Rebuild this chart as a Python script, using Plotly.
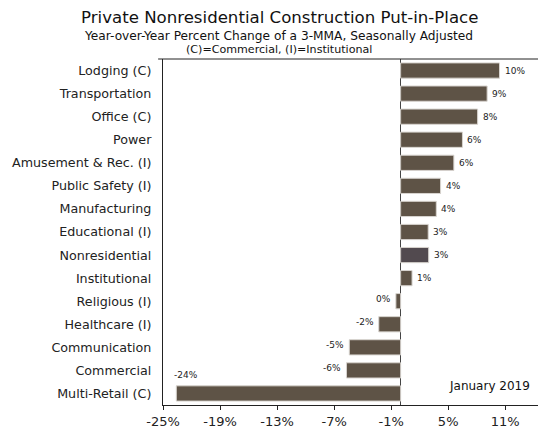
import plotly.graph_objects as go

categories = ["Lodging (C)", "Transportation", "Office (C)", "Power", "Amusement & Rec. (I)",
              "Public Safety (I)", "Manufacturing", "Educational (I)", "Nonresidential",
              "Institutional", "Religious (I)", "Healthcare (I)", "Communication",
              "Commercial", "Multi-Retail (C)"]
values = [10.4, 9.1, 8.1, 6.5, 5.6, 4.2, 3.75, 2.9, 2.95, 1.2, -0.5, -2.3, -5.4, -5.7, -23.6]
labels = ["10%", "9%", "8%", "6%", "6%", "4%", "4%", "3%", "3%", "1%", "0%", "-2%", "-5%", "-6%", "-24%"]
tick_vals = [-25, -19, -13, -7, -1, 5, 11]
tick_text = ["-25%", "-19%", "-13%", "-7%", "-1%", "5%", "11%"]

FONT = "DejaVu Sans"
colors = ["#524a4f" if c == "Nonresidential" else "#5e5346" for c in categories]

fig = go.Figure()
fig.add_trace(go.Bar(
    x=values, y=categories, orientation="h",
    marker=dict(color=colors, line=dict(color="#d8d4cf", width=1)),
    width=0.66, showlegend=False, hoverinfo="skip",
))

annots = []
for c, v, t in zip(categories, values, labels):
    if v >= 0:
        annots.append(dict(x=v, y=c, text=t, xanchor="left", xshift=3, showarrow=False,
                           font=dict(family=FONT, size=9, color="#222")))
    elif v < -20:
        annots.append(dict(x=v, y=c, text=t, xanchor="left", yshift=18, xshift=-4, showarrow=False,
                           font=dict(family=FONT, size=9, color="#222")))
    else:
        annots.append(dict(x=v, y=c, text=t, xanchor="right", xshift=-3, yshift=2, showarrow=False,
                           font=dict(family=FONT, size=9, color="#222")))

fig.update_layout(
    width=539, height=429,
    margin=dict(l=163, r=1, t=59, b=24),
    paper_bgcolor="white", plot_bgcolor="white",
    font=dict(family=FONT, size=12, color="#222"),
    bargap=0.35,
    annotations=annots + [
        dict(text="Private Nonresidential Construction Put-in-Place", xref="paper", yref="paper",
             x=(279 - 163) / 375, y=1 + (59 - 17) / 346, xanchor="center", yanchor="middle",
             showarrow=False, font=dict(family=FONT, size=16.6, color="#111")),
        dict(text="Year-over-Year Percent Change of a 3-MMA, Seasonally Adjusted", xref="paper", yref="paper",
             x=(278 - 163) / 375, y=1 + (59 - 36.5) / 346, xanchor="center", yanchor="middle",
             showarrow=False, font=dict(family=FONT, size=12.2, color="#111")),
        dict(text="(C)=Commercial, (I)=Institutional", xref="paper", yref="paper",
             x=(279 - 163) / 375, y=1 + (59 - 49.5) / 346, xanchor="center", yanchor="middle",
             showarrow=False, font=dict(family=FONT, size=11.1, color="#111")),
        dict(text="January 2019", xref="paper", yref="paper",
             x=(532 - 163) / 375, y=(405 - 386) / 346, xanchor="right", yanchor="middle",
             showarrow=False, font=dict(family=FONT, size=12, color="#111")),
    ],
    xaxis=dict(range=[-25, 14.45], tickvals=tick_vals, ticktext=tick_text,
               ticks="outside", ticklen=4, tickcolor="#222", showgrid=False,
               zeroline=True, zerolinecolor="#444", zerolinewidth=1,
               showline=True, linecolor="#222", linewidth=1, mirror=False,
               tickfont=dict(family=FONT, size=13, color="#222")),
    xaxis2=dict(range=[-25, 14.45], tickvals=tick_vals, showticklabels=False,
                ticks="inside", ticklen=4, tickcolor="#222", showgrid=False, zeroline=False,
                overlaying="x", anchor="y", side="bottom"),
    yaxis=dict(categoryorder="array", categoryarray=categories[::-1],
               range=[-0.5, 14.5], ticks="", showgrid=False, showline=True,
               linecolor="#222", linewidth=1, ticksuffix="  ",
               tickfont=dict(family=FONT, size=12.7, color="#222")),
)
fig.add_shape(type="line", xref="paper", yref="paper", x0=-0.013, x1=1, y0=1, y1=1,
              line=dict(color="#222", width=1))

fig.write_html("out.html", config={"displayModeBar": False},
               post_script="document.body.style.margin='0';document.body.style.overflow='hidden';")
